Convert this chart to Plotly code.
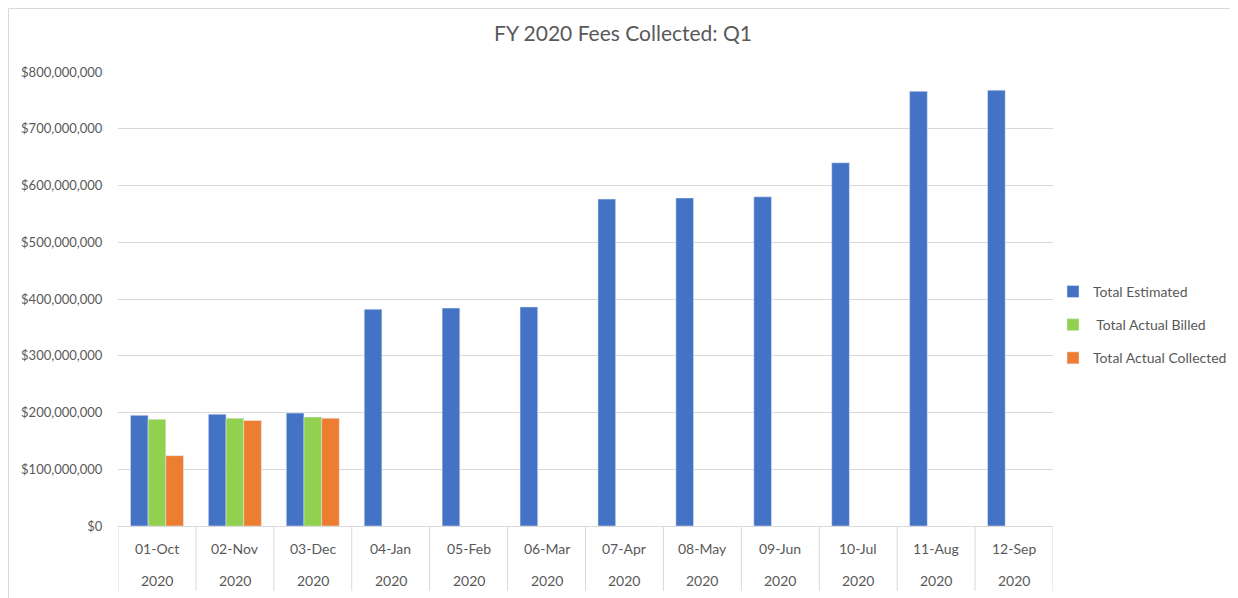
import plotly.graph_objects as go

categories = ["01-Oct", "02-Nov", "03-Dec", "04-Jan", "05-Feb", "06-Mar",
              "07-Apr", "08-May", "09-Jun", "10-Jul", "11-Aug", "12-Sep"]
years = ["2020"] * 12
total_estimated = [195e6, 197e6, 199e6, 382e6, 384e6, 386e6,
                   576e6, 578e6, 580e6, 640e6, 766e6, 768e6]
total_billed = [188e6, 190e6, 192e6, None, None, None,
                None, None, None, None, None, None]
total_collected = [124e6, 186e6, 190e6, None, None, None,
                   None, None, None, None, None, None]

FONT = "Lato"
TXT = "#595959"
GRID = "#d9d9d9"

W, H = 1230, 590
ML, MR, MT, MB = 110, 185, 64, 72
PW, PH = W - ML - MR, H - MT - MB

fig = go.Figure()
fig.add_trace(go.Bar(name="Total Estimated", x=categories, y=total_estimated,
                     marker_color="#4472C4", legendgroup="a"))
fig.add_trace(go.Bar(name=" Total Actual Billed", x=categories, y=total_billed,
                     marker_color="#92D050", legendgroup="b"))
fig.add_trace(go.Bar(name="Total Actual Collected", x=categories, y=total_collected,
                     marker_color="#ED7D31", legendgroup="c"))

annotations = []
for c, yr in zip(categories, years):
    annotations.append(dict(x=c, y=-22 / PH, xref="x", yref="paper", text=c,
                            showarrow=False, yanchor="middle",
                            font=dict(family=FONT, size=14, color=TXT)))
    annotations.append(dict(x=c, y=-54 / PH, xref="x", yref="paper", text=yr,
                            showarrow=False, yanchor="middle",
                            font=dict(family=FONT, size=14, color=TXT)))

shapes = []
for i in range(len(categories) + 1):
    shapes.append(dict(type="line", xref="x", yref="paper",
                       x0=i - 0.5, x1=i - 0.5, y0=0, y1=-65 / PH,
                       line=dict(color=GRID, width=1)))
# chart border (left and top)
bx = (0.5 - ML) / PW
by = 1 + (MT - 0.5) / PH
shapes.append(dict(type="line", xref="paper", yref="paper",
                   x0=bx, x1=bx, y0=by, y1=-0.2,
                   line=dict(color=GRID, width=1)))
shapes.append(dict(type="line", xref="paper", yref="paper",
                   x0=bx, x1=1.3, y0=by, y1=by,
                   line=dict(color=GRID, width=1)))

fig.update_layout(
    width=W, height=H,
    margin=dict(l=ML, r=MR, t=MT, b=MB, autoexpand=False),
    paper_bgcolor="white", plot_bgcolor="white",
    title=dict(text="FY 2020 Fees Collected: Q1", x=0.5, xref="container",
               xanchor="center", y=1 - 26 / H, yanchor="middle",
               font=dict(family=FONT, size=21, color=TXT)),
    barmode="group", bargap=0.32, bargroupgap=0,
    font=dict(family=FONT, color=TXT),
    legend=dict(x=1.0, xanchor="left", y=0.443, yanchor="middle",
                traceorder="grouped", tracegroupgap=12,
                font=dict(family=FONT, size=14, color=TXT),
                itemwidth=30),
    annotations=annotations,
    shapes=shapes,
    showlegend=True,
)
fig.update_xaxes(showticklabels=False, range=[-0.5, 11.5], showline=True,
                 linecolor=GRID, linewidth=1, showgrid=False, ticks="",
                 automargin=False)
fig.update_yaxes(range=[0, 800e6], dtick=100e6, tickformat="$,.0f",
                 showgrid=True, gridcolor=GRID, gridwidth=1, zeroline=False,
                 tickfont=dict(family=FONT, size=13, color=TXT), ticklen=0,
                 ticks="outside", tickcolor="white", ticklabelstandoff=12,
                 automargin=False)

fig.write_html("out.html")
